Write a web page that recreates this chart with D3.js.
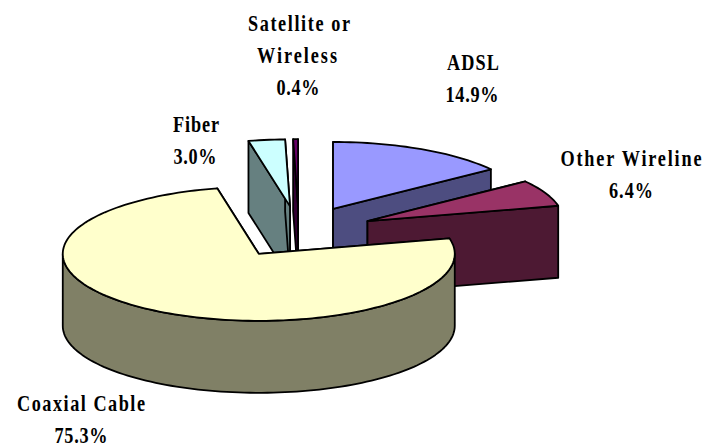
<!DOCTYPE html>
<html>
<head>
<meta charset="utf-8">
<script src="https://cdnjs.cloudflare.com/ajax/libs/d3/7.8.5/d3.min.js"></script>
<style>
html,body{margin:0;padding:0;background:#fff;}
svg{display:block;}
text{font-family:"Liberation Serif","Times New Roman",serif;font-weight:bold;font-size:24px;fill:#000;text-anchor:middle;}
</style>
</head>
<body>
<svg id="chart" width="707" height="445"></svg>
<script>
// Data, clockwise from twelve o'clock
const categories = ["ADSL", "Other Wireline", "Coaxial Cable", "Fiber", "Satellite or Wireless"];
const shares = [14.9, 6.4, 75.3, 3.0, 0.4];
const topColors = ["#9999FF", "#993366", "#FFFFCC", "#CCFFFF", "#660066"];
const wallColors = ["#4D4D80", "#4D1933", "#808066", "#668080", "#330033"];
const labelLines = [["ADSL"], ["Other Wireline"], ["Coaxial Cable"], ["Fiber"], ["Satellite or", "Wireless"]];
const paintOrder = ["ADSL", "Other Wireline", "Fiber", "Satellite or Wireless", "Coaxial Cable"];

// Layout
const W = 707, H = 445;
const cx = 299, cy = 232, rx = 196, ry = 67, depth = 72, explode = 0.385;
const labelPlace = [
  {y: 70,  xs: [473, 472],      ws: [52, 53]},
  {y: 166, xs: [631, 631],      ws: [141, 44]},
  {y: 411, xs: [81, 81],        ws: [128, 53]},
  {y: 132, xs: [196, 195],      ws: [46, 43]},
  {y: 31,  xs: [299, 297, 298], ws: [102, 80, 43]}
];
const lineStep = 32;
const squeeze = 0.76;

const svg = d3.select("#chart");
const x = d3.scaleLinear().domain([-1, 1]).range([cx - rx, cx + rx]);
const y = d3.scaleLinear().domain([-1, 1]).range([cy - ry, cy + ry]);
const pct = d3.format(".1f");

const arcs = d3.pie().sort(null).value(d => d)(shares);
const line = d3.line();

function pt(a, c, k = 1, dz = 0) {
  return [x(c[0] + k * Math.sin(a)), y(c[1] - k * Math.cos(a)) + dz];
}
function arcPts(a0, a1, c, dz = 0) {
  const n = Math.max(2, Math.ceil((a1 - a0) / 0.03));
  return d3.range(n + 1).map(i => pt(a0 + (a1 - a0) * i / n, c, 1, dz));
}
const strokeW = 1.8;
function draw(points, fill) {
  svg.append("path")
    .attr("d", line(points) + "Z")
    .attr("fill", fill)
    .attr("stroke", "#000")
    .attr("stroke-width", strokeW)
    .attr("stroke-linejoin", "round");
}

paintOrder.forEach(name => {
  const i = categories.indexOf(name);
  const s = arcs[i];
  const a0 = s.startAngle, a1 = s.endAngle, mid = (a0 + a1) / 2;
  const c = [explode * Math.sin(mid), -explode * Math.cos(mid)];
  const apex = pt(0, c, 0), apexLow = pt(0, c, 0, depth);

  // inner radial walls
  [a0, a1].forEach(a => {
    draw([apex, pt(a, c), pt(a, c, 1, depth), apexLow], wallColors[i]);
  });
  // outer rim wall, only where it faces the viewer
  const v0 = Math.max(a0, Math.PI / 2), v1 = Math.min(a1, Math.PI * 1.5);
  if (v1 > v0) {
    draw(arcPts(v0, v1, c).concat(arcPts(v0, v1, c, depth).reverse()), wallColors[i]);
  }
  // top face
  draw([apex].concat(arcPts(a0, a1, c)), topColors[i]);
});

arcs.forEach(s => {
  const i = s.index, p = labelPlace[i];
  const lines = labelLines[i].concat([pct(shares[i]) + "%"]);
  lines.forEach((l, j) => {
    svg.append("text")
      .attr("transform", `translate(${p.xs[j]},${p.y + j * lineStep}) scale(${squeeze},1)`)
      .attr("textLength", p.ws[j] / squeeze)
      .attr("lengthAdjust", "spacing")
      .text(l);
  });
});
</script>
</body>
</html>
